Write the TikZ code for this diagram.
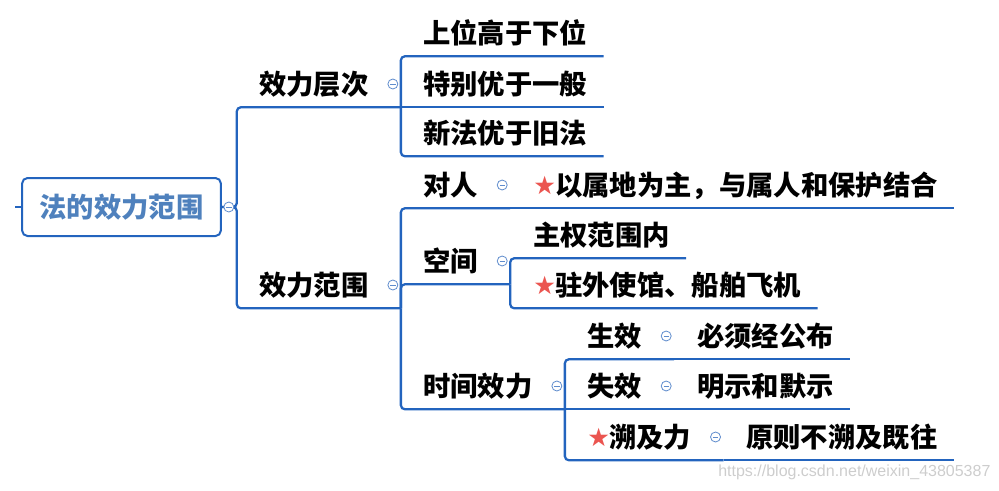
\documentclass[tikz,border=0pt]{standalone}
\usepackage{fontspec}
\newfontfamily\cjk{Noto Sans CJK SC}
\newfontfamily\dejavu{DejaVu Sans}
\newfontfamily\wmfont{Liberation Sans}
\usepackage{tikz}
\definecolor{lineblue}{RGB}{35,100,190}
\definecolor{rootblue}{RGB}{79,129,189}
\definecolor{foldblue}{RGB}{95,140,205}
\definecolor{starred}{RGB}{235,85,80}
\definecolor{wmgray}{RGB}{205,205,205}
\newcommand{\hot}{\makebox[16.5pt][l]{\raisebox{0.8pt}{\color{starred}\dejavu\fontsize{19}{19}\selectfont ★}}}

\begin{document}
\begin{tikzpicture}[x=0.75pt, y=-0.75pt,
  topic/.style={anchor=west, font=\cjk\bfseries\fontsize{20.5}{24}\selectfont, text height=18pt, text depth=2.5pt, inner xsep=0pt, inner ysep=7pt},
  branch/.style={draw=lineblue, line width=1.7pt, rounded corners=3pt},
  fold/.style={circle, draw=foldblue, fill=white, line width=.6pt, minimum size=7.5pt, inner sep=0pt,
    path picture={\draw[foldblue, line width=.6pt] ([xshift=-2pt]path picture bounding box.center) -- ([xshift=2pt]path picture bounding box.center);}}]
  \useasboundingbox (0,0) rectangle (999,490);

  \node[draw=lineblue, line width=1.5pt, rounded corners=4pt, minimum width=149pt, minimum height=43.5pt, text=rootblue,
    font=\cjk\bfseries\fontsize{20.5}{24}\selectfont, text height=18pt, text depth=2.5pt] (root) at (121.5,207) {法的效力范围};
  \coordinate (stub) at (15,207);

  \node[topic] (la) at (259,84) {效力层次};
  \node[topic] (lb) at (259,285) {效力范围};

  \node[topic] (la1) at (423,33) {上位高于下位};
  \node[topic] (la2) at (423,84) {特别优于一般};
  \node[topic] (la3) at (423,133) {新法优于旧法};

  \node[topic] (lb1) at (423,185) {对人};
  \node[topic] (lb2) at (423,261) {空间};
  \node[topic] (lb3) at (423,386) {时间效力};

  \node[topic] (lb11) at (533,185) {\hot 以属地为主，与属人和保护结合};
  \node[topic] (lb21) at (533,235) {主权范围内};
  \node[topic] (lb22) at (533,285) {\hot 驻外使馆、船舶飞机};

  \node[topic] (lb31) at (587,336) {生效};
  \node[topic] (lb32) at (587,386) {失效};
  \node[topic] (lb33) at (587,437) {\hot 溯及力};
  \node[topic] (lb311) at (697,336) {必须经公布};
  \node[topic] (lb321) at (697,386) {明示和默示};
  \node[topic] (lb331) at (746,437) {原则不溯及既往};

  \draw[branch] (stub) -- (root.west);
  \draw[branch] (root.east) -- ++(15,0) |- (la.south west) -- ([xshift=24pt]la.south east);
  \draw[branch] (root.east) -- ++(15,0) |- (lb.south west) -- ([xshift=24pt]lb.south east);

  \draw[branch] ([xshift=24pt]la.south east) |- (la1.south west) -- ([xshift=12pt]la1.south east);
  \draw[branch] ([xshift=24pt]la.south east) -- (la2.south west) -- ([xshift=12pt]la2.south east);
  \draw[branch] ([xshift=24pt]la.south east) |- (la3.south west) -- ([xshift=12pt]la3.south east);

  \draw[branch] ([xshift=24pt]lb.south east) |- (lb1.south west) -- ([xshift=24pt]lb1.south east);
  \draw[branch] ([xshift=24pt]lb.south east) |- (lb2.south west) -- ([xshift=24pt]lb2.south east);
  \draw[branch] ([xshift=24pt]lb.south east) |- (lb3.south west) -- ([xshift=24pt]lb3.south east);

  \draw[branch] ([xshift=24pt]lb1.south east) -- (lb11.south west) -- ([xshift=12pt]lb11.south east);

  \draw[branch] ([xshift=24pt]lb2.south east) |- (lb21.south west) -- ([xshift=12pt]lb21.south east);
  \draw[branch] ([xshift=24pt]lb2.south east) |- (lb22.south west) -- ([xshift=12pt]lb22.south east);

  \draw[branch] ([xshift=24pt]lb3.south east) |- (lb31.south west) -- ([xshift=24pt]lb31.south east);
  \draw[branch] ([xshift=24pt]lb3.south east) -- (lb32.south west) -- ([xshift=24pt]lb32.south east);
  \draw[branch] ([xshift=24pt]lb3.south east) |- (lb33.south west) -- ([xshift=24pt]lb33.south east);

  \draw[branch] ([xshift=24pt]lb31.south east) -- (lb311.south west) -- ([xshift=12pt]lb311.south east);
  \draw[branch] ([xshift=24pt]lb32.south east) -- (lb321.south west) -- ([xshift=12pt]lb321.south east);
  \draw[branch] ([xshift=24pt]lb33.south east) -- (lb331.south west) -- ([xshift=12pt]lb331.south east);

  \node[fold] (froot) at ([xshift=5.25pt]root.east) {};
  \node[fold] (fla) at ([xshift=18pt]la.east) {};
  \node[fold] (flb) at ([xshift=18pt]lb.east) {};
  \node[fold] (flb1) at ([xshift=18pt]lb1.east) {};
  \node[fold] (flb2) at ([xshift=18pt]lb2.east) {};
  \node[fold] (flb3) at ([xshift=18pt]lb3.east) {};
  \node[fold] (flb31) at ([xshift=18pt]lb31.east) {};
  \node[fold] (flb32) at ([xshift=18pt]lb32.east) {};
  \node[fold] (flb33) at ([xshift=18pt]lb33.east) {};

  \node[anchor=west, inner sep=0pt, text=wmgray, font=\wmfont\fontsize{12}{14}\selectfont] (wm) at (718,472) {https://blog.csdn.net/weixin\_43805387};
\end{tikzpicture}
\end{document}
